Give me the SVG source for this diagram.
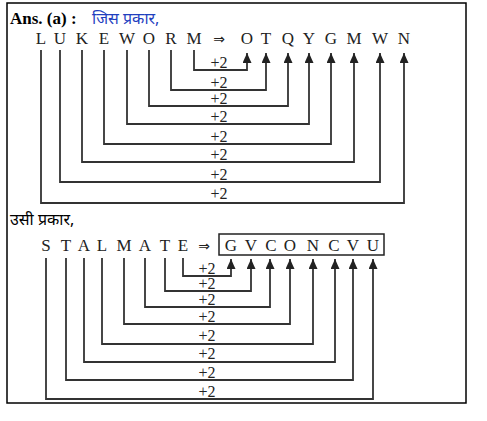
<svg xmlns="http://www.w3.org/2000/svg" width="487" height="421" viewBox="0 0 487 421">
<defs>
<marker id="ah" markerUnits="userSpaceOnUse" markerWidth="10" markerHeight="9" refX="10" refY="4.5" orient="auto">
<path d="M0,0 L10,4.5 L0,9 Z" fill="#222"/>
</marker>
</defs>
<rect x="7" y="3" width="459" height="400" fill="#fff" stroke="#000" stroke-width="1.5"/>
<g id="title1">
<text x="10" y="24" font-family="Liberation Serif" font-size="17" font-weight="bold" fill="#000">Ans. (a) :</text>
<text x="92" y="24" font-family="Noto Sans, DejaVu Sans, sans-serif" font-size="16" fill="#1f3fbf">जिस प्रकार,</text>
</g>
<g id="row1" font-family="Liberation Serif" font-size="17" fill="#222" text-anchor="middle">
<text x="41" y="44">L</text>
<text x="60" y="44">U</text>
<text x="82" y="44">K</text>
<text x="104" y="44">E</text>
<text x="127" y="44">W</text>
<text x="149" y="44">O</text>
<text x="171" y="44">R</text>
<text x="194" y="44">M</text>
<text x="219" y="44" font-family="DejaVu Sans" font-size="14">⇒</text>
<text x="247" y="44">O</text>
<text x="266" y="44">T</text>
<text x="288" y="44">Q</text>
<text x="309" y="44">Y</text>
<text x="331" y="44">G</text>
<text x="354" y="44">M</text>
<text x="380" y="44">W</text>
<text x="404" y="44">N</text>
</g>
<g id="labels1" font-family="Liberation Serif" font-size="16" fill="#222" text-anchor="middle">
<text x="219" y="68">+2</text>
<text x="219" y="88">+2</text>
<text x="219" y="104">+2</text>
<text x="219" y="122">+2</text>
<text x="219" y="142">+2</text>
<text x="219" y="160">+2</text>
<text x="219" y="180">+2</text>
<text x="219" y="199">+2</text>
</g>
<g id="title2">
<text x="10" y="225" font-family="Noto Sans, DejaVu Sans, sans-serif" font-size="16" fill="#000">उसी प्रकार,</text>
</g>
<g id="row2" font-family="Liberation Serif" font-size="17" fill="#222" text-anchor="middle">
<text x="46" y="251">S</text>
<text x="66" y="251">T</text>
<text x="84" y="251">A</text>
<text x="102" y="251">L</text>
<text x="124" y="251">M</text>
<text x="145" y="251">A</text>
<text x="165" y="251">T</text>
<text x="183" y="251">E</text>
<text x="204" y="251" font-family="DejaVu Sans" font-size="14">⇒</text>
<rect x="219" y="234" width="165" height="21" fill="none" stroke="#222" stroke-width="1.5"/>
<text x="231" y="251">G</text>
<text x="251" y="251">V</text>
<text x="271" y="251">C</text>
<text x="290" y="251">O</text>
<text x="313" y="251">N</text>
<text x="334" y="251">C</text>
<text x="353" y="251">V</text>
<text x="373" y="251">U</text>
</g>
<g id="labels2" font-family="Liberation Serif" font-size="16" fill="#222" text-anchor="middle">
<text x="207" y="274">+2</text>
<text x="207" y="289">+2</text>
<text x="207" y="305">+2</text>
<text x="207" y="322">+2</text>
<text x="207" y="341">+2</text>
<text x="207" y="359">+2</text>
<text x="207" y="378">+2</text>
<text x="207" y="397">+2</text>
</g>
<g id="connectors" fill="none" stroke="#333" stroke-width="1.8" marker-end="url(#ah)">
<path d="M194,50 V70 H247 V53"/>
<path d="M171,50 V90 H266 V53"/>
<path d="M149,50 V106 H288 V53"/>
<path d="M127,50 V124 H309 V53"/>
<path d="M104,50 V144 H331 V53"/>
<path d="M82,50 V162 H354 V53"/>
<path d="M60,50 V182 H380 V53"/>
<path d="M41,50 V203 H404 V53"/>
<path d="M183,258 V276 H231 V259"/>
<path d="M165,258 V291 H251 V259"/>
<path d="M145,258 V307 H270 V259"/>
<path d="M124,258 V324 H290 V259"/>
<path d="M102,258 V344 H313 V259"/>
<path d="M84,258 V362 H335 V259"/>
<path d="M66,258 V380 H353 V259"/>
<path d="M46,258 V399 H373 V259"/>
</g>
</svg>
